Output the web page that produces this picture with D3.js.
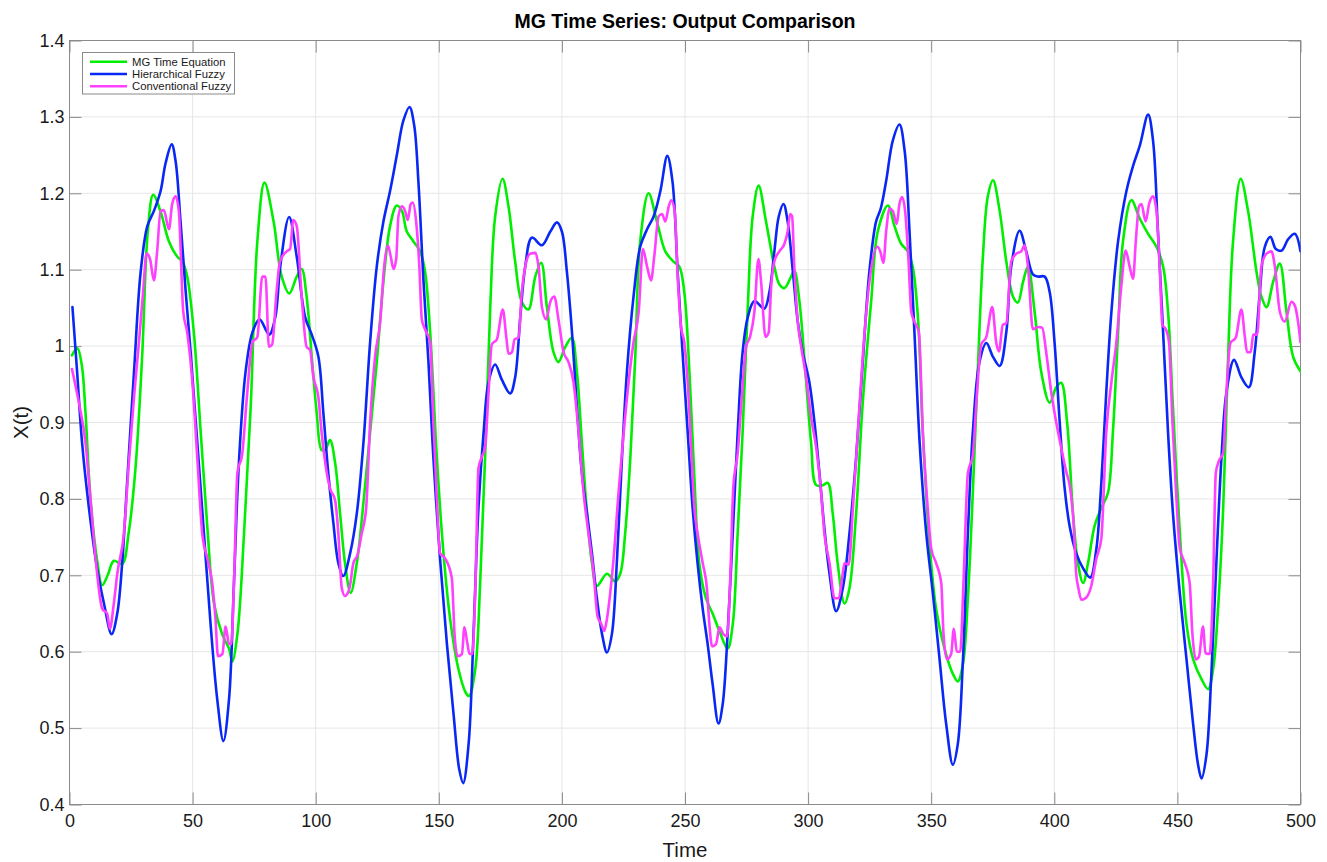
<!DOCTYPE html>
<html>
<head>
<meta charset="utf-8">
<script src="https://cdn.jsdelivr.net/npm/d3@7"></script>
<style>
  html, body { margin: 0; padding: 0; background: #fff; }
  svg { display: block; font-family: "Liberation Sans", Arial, Helvetica, sans-serif; }
</style>
</head>
<body>
<svg id="chart" width="1327" height="862"></svg>
<script>
// ---------- data ----------
const xTicks = [0, 50, 100, 150, 200, 250, 300, 350, 400, 450, 500];
const yTicks = [0.4, 0.5, 0.6, 0.7, 0.8, 0.9, 1.0, 1.1, 1.2, 1.3, 1.4];
const seriesNames = ["MG Time Equation", "Hierarchical Fuzzy", "Conventional Fuzzy"];

const mgT = [1,3.2,5,6.5,8.5,11.2,13.3,15.5,18,21.4,24,26.8,29.5,31.8,34,37,40.4,43.8,45.8,47.8,50.5,53.3,56,58.7,62,64.8,66.1,68.2,70.9,73.6,76.3,79.2,82.9,86.2,89.3,92.3,94.3,96.3,98.4,100.4,102.4,103.8,105.8,107.9,109.9,111.9,114.2,116.7,119.4,122.1,124.8,127.5,130.2,132.9,135,137,139.7,142.4,144.4,146.5,149.2,151.9,154.6,158,161,162.3,164.8,166.8,168.8,170.9,172.9,175.9,178.3,181,183.7,186.4,189.2,191.6,193.9,196.6,198.6,201.4,204,206.1,208.1,210.2,212.2,214.2,218.3,221.7,223.7,225.7,227.8,229.8,231.8,235.2,238.6,242,245.2,247.7,249.7,251.8,253.8,255.8,258.5,261.2,264,267.3,269.4,271.4,273.4,275.5,277.5,279.9,282.9,286.3,288.3,290.4,293.1,294.4,296.5,299.2,301.2,303.3,306,308,310,312,314.8,316.8,319.5,322.2,325.6,328.3,332.4,335.1,337.8,340.5,342.5,344.6,346.6,349.3,352,355.4,358.8,360.8,362.9,364.9,366.9,368.9,371,373,375.1,377.8,380.5,383.2,385.2,387.3,389.3,392,394.7,398.1,400.8,402.8,405.2,407.6,409.6,411.7,413.7,416.4,419.1,421.8,423.8,425.9,427.9,431.3,434.7,438.1,441.5,444.2,446.2,448.2,451,453.7,456.4,459.8,462.5,464.5,466.5,468.6,470.6,472.6,475.7,478.7,482.1,484.1,486.2,488.9,491.6,494.3,497,500];
const mgX = [0.988,0.997,0.975,0.913,0.801,0.72,0.687,0.7,0.719,0.715,0.755,0.84,0.986,1.15,1.198,1.176,1.137,1.117,1.111,1.091,1.018,0.887,0.762,0.663,0.623,0.604,0.587,0.623,0.755,0.92,1.137,1.214,1.163,1.091,1.069,1.091,1.101,1.065,0.986,0.913,0.864,0.864,0.877,0.847,0.781,0.716,0.677,0.716,0.795,0.887,0.979,1.084,1.157,1.184,1.177,1.15,1.137,1.124,1.098,1.018,0.854,0.729,0.643,0.577,0.546,0.542,0.577,0.69,0.854,1.051,1.17,1.219,1.183,1.111,1.058,1.048,1.091,1.109,1.051,0.992,0.979,0.999,1.011,0.966,0.874,0.781,0.716,0.686,0.702,0.692,0.702,0.755,0.854,0.986,1.137,1.2,1.163,1.124,1.111,1.104,1.071,0.966,0.828,0.716,0.67,0.65,0.627,0.604,0.636,0.755,0.887,1.051,1.17,1.21,1.163,1.104,1.081,1.076,1.091,1.099,1.058,0.953,0.874,0.818,0.818,0.821,0.781,0.716,0.663,0.683,0.781,0.926,1.058,1.15,1.184,1.157,1.134,1.124,1.104,1.038,0.887,0.742,0.656,0.604,0.571,0.561,0.584,0.67,0.808,0.966,1.117,1.196,1.217,1.177,1.111,1.065,1.057,1.084,1.104,1.045,0.966,0.926,0.946,0.952,0.9,0.781,0.716,0.69,0.716,0.765,0.788,0.808,0.887,1.018,1.137,1.191,1.167,1.147,1.13,1.104,1.045,0.92,0.755,0.636,0.59,0.564,0.551,0.577,0.656,0.788,0.986,1.137,1.219,1.177,1.098,1.065,1.051,1.084,1.108,1.045,0.986,0.967];

const hfT = [1.2,3.1,5.1,7.9,11.2,14,17.1,19.4,21.4,23.4,26.2,28.9,31.6,34.3,37,39,41.5,43.1,45.1,47.2,49.2,51.9,54.6,57.3,60,62.5,64.8,66.8,68.8,71.5,74.3,77.2,81.1,83.6,85.6,89.2,92.3,95.7,98.4,101.1,103.1,105.1,107.2,109.2,111.2,114,116.7,119.4,122.1,124.8,127.5,130.2,132.9,135.6,138.1,140,141.7,143.8,145.8,147.8,150.5,153.3,156,158.3,159.9,162.1,164.1,166.1,168.2,170.2,172.9,175.6,179,181,183.1,185.1,187.8,191.9,195.3,198,200,202,204.1,206.1,208.1,210.2,212.2,214.2,216.3,218.3,220.3,222.4,224.4,226.4,229.1,231.8,234.6,237.3,240,242.8,244.9,247,249,251.1,253.1,255.1,257.2,259.2,261.2,263.6,265.3,267.3,269.4,271.4,273.4,275.5,278.2,282.2,284.3,286.3,288.1,290,291.7,293.8,295.8,297.8,300.5,302.6,304.6,306.6,308.7,311.4,314.1,316.8,319.5,322.2,324.9,327.6,329.5,331.7,334.4,337.1,339.2,341.2,343.2,345.3,348,350.7,353.4,356.1,358.8,360.8,362.9,364.9,366.9,369.6,372.4,375.1,377.8,380.5,382.5,385.9,388.6,391.3,393.4,396.1,398.1,400.1,402.2,404.2,406.2,408.9,411.7,414.6,417.1,419.1,421.1,423.2,425.9,429.3,432,434.7,438.1,440.1,442.1,444.2,446.2,448.2,451,453.7,456.4,458.4,459.8,461.8,463.8,465.9,467.9,469.9,473,476,479,481.4,483.5,485.5,487.8,490,492.3,495,497.7,500];
const hfX = [1.051,0.966,0.874,0.788,0.709,0.663,0.623,0.65,0.716,0.821,0.966,1.097,1.157,1.177,1.203,1.239,1.264,1.242,1.163,1.071,0.992,0.874,0.755,0.636,0.538,0.483,0.538,0.69,0.847,0.966,1.018,1.035,1.015,1.038,1.104,1.169,1.117,1.038,1.015,0.986,0.913,0.834,0.768,0.716,0.699,0.729,0.781,0.874,1.005,1.104,1.163,1.203,1.249,1.295,1.313,1.289,1.216,1.084,0.979,0.854,0.722,0.61,0.518,0.446,0.428,0.479,0.623,0.788,0.887,0.953,0.976,0.956,0.938,0.959,1.038,1.104,1.142,1.132,1.15,1.162,1.15,1.098,1.018,0.92,0.834,0.781,0.729,0.67,0.623,0.599,0.623,0.722,0.854,0.966,1.065,1.13,1.153,1.17,1.203,1.249,1.216,1.098,0.992,0.887,0.788,0.716,0.656,0.61,0.558,0.506,0.531,0.623,0.755,0.887,0.992,1.038,1.059,1.049,1.071,1.124,1.17,1.186,1.163,1.098,1.032,0.992,0.953,0.9,0.834,0.762,0.702,0.653,0.683,0.755,0.854,0.979,1.098,1.163,1.18,1.216,1.269,1.29,1.256,1.15,1.018,0.874,0.755,0.676,0.59,0.505,0.452,0.479,0.59,0.755,0.887,0.979,1.004,0.986,0.974,1.018,1.104,1.151,1.124,1.094,1.091,1.091,1.071,1.005,0.9,0.814,0.765,0.729,0.709,0.697,0.735,0.821,0.939,1.045,1.137,1.203,1.236,1.262,1.303,1.269,1.15,1.018,0.887,0.781,0.676,0.59,0.505,0.452,0.434,0.465,0.571,0.722,0.854,0.939,0.982,0.959,0.946,0.992,1.071,1.13,1.143,1.127,1.125,1.14,1.147,1.124];

const cfT = [1,3.8,6.5,8.5,10.6,13.3,15.3,16.4,18,19.4,22.1,24.1,26.2,28.2,29.9,31.3,32.7,34.3,35.6,37,38.3,40.4,41.7,43.1,44.4,46.2,47.8,49.9,51.9,53.9,56,58,59.3,60.3,62.1,63.4,64.8,65.7,66.8,68.2,70.2,72.2,74.3,76.3,78.3,79.6,81,82.3,84.1,85.5,88.2,89.6,90.9,92.3,94.3,96.3,97.7,99.1,101.1,102.4,104.5,105.8,107.9,109.2,110.6,111.9,113.7,115.3,116.9,118.7,120.5,122.1,124.1,126.2,127.8,129.3,130.5,131.6,132.7,133.6,135,136.3,137.4,138.6,139.4,140.8,142.1,143.1,144.4,146.5,147.8,149.2,150.5,152.6,155.3,156.4,157.6,159.4,160.4,161.4,162.5,163.6,164.9,166.1,167.5,168.8,170.2,171.5,173.6,176,177.4,178.3,179.7,180.8,182.4,183.7,185.1,187.1,189.2,190.5,191.9,193.6,195.3,196.9,198.6,200.7,202.7,204.7,206.8,208.8,210.8,212.9,214.5,215.9,217.2,218.3,219.6,221,223,225.1,227.1,229.1,231.2,232.9,234.6,236.2,237.5,239.3,240.7,242,243.4,244.4,245.8,247.2,248.4,249.7,251.1,252.4,253.8,255.1,257.2,258.9,259.9,261,262.6,264,265.6,267.1,268.3,269.6,271.4,273.2,274.8,276.4,278.2,279.8,280.9,282.7,284,285,286.3,288.3,290.4,291.7,292.7,293.5,294.4,295.8,297.2,299.2,301.2,303.3,305.3,306.6,308.7,310.7,312.5,313.8,314.8,316.5,318.2,320.2,322.2,324.9,328.1,329.3,330.6,331.7,333.1,334.4,336,337.1,338.2,339.4,340.8,341.9,343.2,345,346.6,348.6,350,352,354.1,355,356.4,358.1,359.2,360.4,361.8,363.1,364.9,366.9,368.6,370.3,372.4,374.8,376.4,377.5,379.1,380.5,382.5,384.6,386.6,387.9,389.3,391.3,393.4,395.1,396.7,398.8,400.8,402.8,404.9,406.4,407.8,408.9,409.8,411,413,415,417.1,419.1,421.1,423.2,425.2,427.2,429,430.6,432,433.1,434.4,435.4,437.1,438.5,440.1,441.5,442.8,443.9,445.3,446.6,448,449.6,451,453,455,456.1,457.5,458.8,460.4,461.4,463.1,464.5,465.6,466.9,468.6,469.9,471.5,473.7,476,477.4,478.3,479.8,480.8,482.4,484.1,486.2,488.2,489.6,491.6,493.6,496.3,497.7,499,500];
const cfX = [0.97,0.926,0.874,0.801,0.722,0.656,0.65,0.63,0.663,0.702,0.755,0.847,0.933,1.005,1.071,1.121,1.114,1.086,1.124,1.177,1.178,1.153,1.186,1.196,1.177,1.045,1.018,0.953,0.854,0.755,0.722,0.689,0.643,0.594,0.597,0.633,0.61,0.61,0.689,0.834,0.86,0.939,1.005,1.012,1.091,1.091,0.999,1.002,1.071,1.111,1.124,1.127,1.165,1.157,1.065,0.999,0.995,0.959,0.933,0.887,0.834,0.814,0.798,0.755,0.683,0.673,0.683,0.716,0.726,0.755,0.788,0.9,0.986,1.032,1.104,1.132,1.117,1.101,1.114,1.17,1.183,1.177,1.165,1.186,1.188,1.163,1.104,1.035,1.022,1.005,0.9,0.801,0.729,0.722,0.696,0.623,0.594,0.597,0.632,0.615,0.597,0.597,0.689,0.84,0.855,0.867,0.939,1.002,1.009,1.048,1.012,0.99,0.992,1.009,1.011,1.071,1.104,1.121,1.122,1.104,1.051,1.035,1.058,1.065,1.035,0.992,0.979,0.953,0.887,0.808,0.755,0.702,0.646,0.637,0.627,0.643,0.676,0.722,0.808,0.887,0.953,1.005,1.045,1.127,1.104,1.086,1.117,1.17,1.173,1.163,1.183,1.191,1.177,1.08,1.025,1.005,0.953,0.874,0.788,0.755,0.716,0.683,0.636,0.607,0.61,0.632,0.623,0.62,0.689,0.814,0.86,0.939,0.999,1.012,1.045,1.114,1.084,1.012,1.018,1.078,1.111,1.124,1.134,1.15,1.173,1.17,1.104,1.032,0.999,0.959,0.907,0.867,0.808,0.755,0.716,0.67,0.67,0.696,0.716,0.714,0.788,0.887,0.986,1.084,1.13,1.124,1.109,1.15,1.18,1.177,1.16,1.186,1.195,1.177,1.111,1.045,1.032,1.018,0.887,0.788,0.735,0.716,0.689,0.623,0.59,0.597,0.63,0.6,0.6,0.689,0.834,0.857,0.939,1.002,1.012,1.051,1.005,0.993,1.028,1.03,1.111,1.121,1.124,1.132,1.104,1.022,1.025,1.024,0.992,0.939,0.9,0.867,0.835,0.815,0.77,0.702,0.683,0.668,0.671,0.686,0.722,0.748,0.887,0.953,1.005,1.078,1.125,1.104,1.088,1.137,1.183,1.186,1.163,1.186,1.196,1.177,1.104,1.028,1.022,1.005,0.9,0.801,0.735,0.716,0.689,0.623,0.59,0.594,0.633,0.598,0.597,0.689,0.834,0.85,0.86,0.939,1.004,1.011,1.048,1.012,0.992,0.992,1.015,1.015,1.104,1.121,1.124,1.104,1.045,1.032,1.058,1.053,1.032,1.005];

// ---------- layout ----------
const svg = d3.select("#chart");
const L = 69.5, R = 1300.5, T = 40.5, B = 804.5;
const x = d3.scaleLinear().domain([0, 500]).range([L, R]);
const y = d3.scaleLinear().domain([0.4, 1.4]).range([B, T]);
const axisColor = "#8a8a8a";
const textColor = "#1a1a1a";

// grid
const grid = svg.append("g");
grid.selectAll("line.vx").data(xTicks.slice(1, -1)).join("line")
  .attr("x1", d => x(d)).attr("x2", d => x(d)).attr("y1", T).attr("y2", B)
  .attr("stroke", "#e6e6e6").attr("stroke-width", 1);
grid.selectAll("line.hy").data(yTicks.slice(1, -1)).join("line")
  .attr("x1", L).attr("x2", R).attr("y1", d => y(d)).attr("y2", d => y(d))
  .attr("stroke", "#e6e6e6").attr("stroke-width", 1);

// axes (ticks inward)
const fmtY = d => String(+d.toFixed(1));
function styleAxis(g) {
  g.selectAll("path.domain").remove();
  g.selectAll(".tick line").attr("stroke", axisColor);
  g.selectAll(".tick text").attr("fill", textColor).attr("font-size", 18)
    .attr("font-family", "Liberation Sans, Arial, sans-serif");
}
svg.append("g").attr("transform", `translate(0,${B})`)
  .call(d3.axisBottom(x).tickValues(xTicks).tickSizeInner(-12).tickSizeOuter(0).tickPadding(10))
  .call(styleAxis);
svg.append("g").attr("transform", `translate(0,${T})`)
  .call(d3.axisTop(x).tickValues(xTicks).tickSizeInner(-12).tickSizeOuter(0).tickFormat(""))
  .call(styleAxis);
svg.append("g").attr("transform", `translate(${L},0)`)
  .call(d3.axisLeft(y).tickValues(yTicks).tickSizeInner(-12).tickSizeOuter(0).tickPadding(5).tickFormat(fmtY))
  .call(styleAxis);
svg.append("g").attr("transform", `translate(${R},0)`)
  .call(d3.axisRight(y).tickValues(yTicks).tickSizeInner(-12).tickSizeOuter(0).tickFormat(""))
  .call(styleAxis);

// box
svg.append("rect").attr("x", L).attr("y", T).attr("width", R - L).attr("height", B - T)
  .attr("fill", "none").attr("stroke", axisColor).attr("stroke-width", 1);

// clip
svg.append("defs").append("clipPath").attr("id", "clip")
  .append("rect").attr("x", L).attr("y", T).attr("width", R - L).attr("height", B - T);

const colors = ["#00ee00", "#0a28f5", "#ff40ff"];
const series = [
  { name: seriesNames[0], t: mgT, v: mgX, color: colors[0], curve: d3.curveCatmullRom.alpha(0.5) },
  { name: seriesNames[1], t: hfT, v: hfX, color: colors[1], curve: d3.curveCatmullRom.alpha(0.5) },
  { name: seriesNames[2], t: cfT, v: cfX, color: colors[2], curve: d3.curveMonotoneX }
];

const plot = svg.append("g").attr("clip-path", "url(#clip)");
series.forEach(s => {
  const pts = s.t.map((t, i) => [t, s.v[i]]);
  const line = d3.line().x(d => x(d[0])).y(d => y(d[1])).curve(s.curve);
  plot.append("path").datum(pts).attr("d", line)
    .attr("fill", "none").attr("stroke", s.color).attr("stroke-width", 2.6)
    .attr("stroke-linejoin", "round").attr("stroke-linecap", "round");
});

// title & labels
svg.append("text").attr("x", (L + R) / 2).attr("y", 28).attr("text-anchor", "middle")
  .attr("font-size", 19.5).attr("font-weight", "bold").attr("fill", "#000")
  .text("MG Time Series: Output Comparison");
svg.append("text").attr("x", (L + R) / 2).attr("y", 857).attr("text-anchor", "middle")
  .attr("font-size", 20.5).attr("fill", textColor).text("Time");
svg.append("text").attr("transform", `translate(28,${(T + B) / 2}) rotate(-90)`)
  .attr("text-anchor", "middle").attr("font-size", 20.5).attr("fill", textColor).text("X(t)");

// legend
const lg = svg.append("g");
lg.append("rect").attr("x", 82.5).attr("y", 52.5).attr("width", 152).attr("height", 41.5)
  .attr("fill", "#fff").attr("stroke", "#8a8a8a").attr("stroke-width", 1);
series.forEach((s, i) => {
  const yy = 61.8 + i * 12.2;
  lg.append("line").attr("x1", 90).attr("x2", 127).attr("y1", yy).attr("y2", yy)
    .attr("stroke", s.color).attr("stroke-width", 2.6);
  lg.append("text").attr("x", 132).attr("y", yy + 4).attr("font-size", 11.3)
    .attr("fill", textColor).text(s.name);
});
</script>
</body>
</html>
